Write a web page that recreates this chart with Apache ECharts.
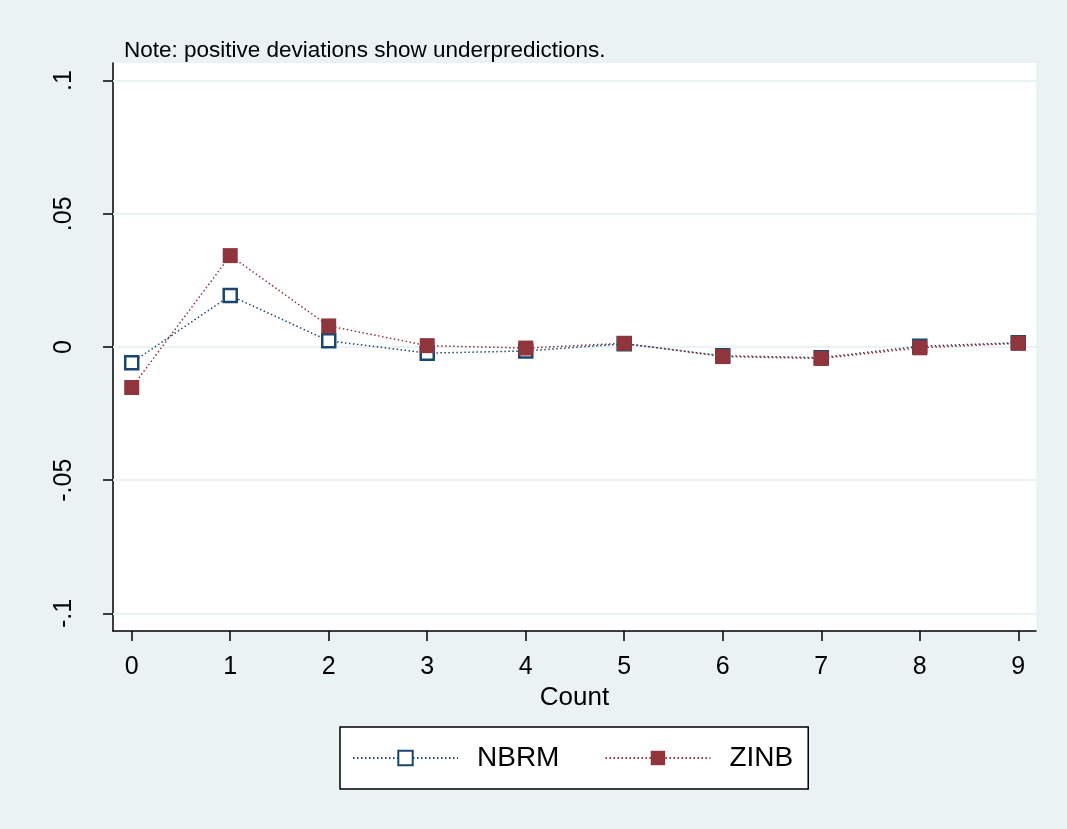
<!DOCTYPE html>
<html>
<head>
<meta charset="utf-8">
<script src="https://cdn.jsdelivr.net/npm/echarts@6/dist/echarts.min.js"></script>
<style>
  html, body { margin: 0; padding: 0; background: #EAF2F3; }
  #chart { width: 1067px; height: 829px; }
</style>
</head>
<body>
<div id="chart"></div>
<script>
var counts = [0, 1, 2, 3, 4, 5, 6, 7, 8, 9];
var nbrm = [-0.0059, 0.0193, 0.0023, -0.0023, -0.0015, 0.0012, -0.0033, -0.0040, 0.0003, 0.0016];
var zinb = [-0.0152, 0.0343, 0.0079, 0.0005, -0.0004, 0.0014, -0.0036, -0.0043, -0.0003, 0.0014];
var yTicks = [-0.1, -0.05, 0, 0.05, 0.1];
var yTickLabels = ['-.1', '-.05', '0', '.05', '.1'];

var navy = '#1a476f';
var maroon = '#90353b';
var bg = '#EAF2F3';
var font = 'Liberation Sans, Arial, sans-serif';

function pairs(vals) {
    return counts.map(function (c, i) { return [c, vals[i]]; });
}

var myChart;
document.addEventListener("DOMContentLoaded", function () {
    myChart = echarts.init(document.getElementById('chart'));
    var option = {
        backgroundColor: bg,
        animation: false,
        textStyle: { fontFamily: font },
        title: {
            text: 'Note: positive deviations show underpredictions.',
            left: 119,
            top: 34,
            textStyle: { fontSize: 22.5, fontWeight: 'normal', color: '#000', fontFamily: font }
        },
        grid: {
            left: 113, top: 63, right: 31, bottom: 198,
            show: true, backgroundColor: '#fff', borderWidth: 0
        },
        xAxis: {
            type: 'value',
            min: -0.19,
            max: 9.18,
            name: 'Count',
            nameLocation: 'middle',
            nameGap: 47,
            nameTextStyle: { fontSize: 26, color: '#000', fontFamily: font },
            axisLine: { show: true, onZero: false, lineStyle: { color: '#000', width: 1.5 } },
            axisTick: { show: true, length: 10, lineStyle: { color: '#000', width: 1.5 }, customValues: counts },
            axisLabel: { fontSize: 25, color: '#000', margin: 24, customValues: counts, formatter: function (v) { return String(v); } },
            splitLine: { show: false }
        },
        yAxis: {
            type: 'value',
            min: -0.1066,
            max: 0.1066,
            axisLine: { show: true, onZero: false, lineStyle: { color: '#000', width: 1.5 } },
            axisTick: { show: true, length: 10, lineStyle: { color: '#000', width: 1.5 }, customValues: yTicks },
            axisLabel: {
                fontSize: 25, color: '#000', rotate: 90, margin: 36, customValues: yTicks,
                formatter: function (v) {
                    var i = yTicks.findIndex(function (t) { return Math.abs(t - v) < 1e-9; });
                    return i >= 0 ? yTickLabels[i] : '';
                }
            },
            splitLine: { show: false }
        },
        legend: {
            bottom: 40,
            left: 340,
            orient: 'horizontal',
            backgroundColor: '#fff',
            borderColor: '#000',
            borderWidth: 1.5,
            borderRadius: 0,
            padding: [17, 15, 17, 12],
            itemWidth: 105,
            itemHeight: 18,
            itemGap: 45,
            textStyle: { fontSize: 28, color: '#000', padding: [0, 0, 0, 14], fontFamily: font },
            data: ['NBRM', 'ZINB']
        },
        series: [
            {
                name: 'grid',
                type: 'line',
                data: [],
                silent: true,
                markLine: {
                    silent: true,
                    z: 1,
                    symbol: 'none',
                    label: { show: false },
                    lineStyle: { color: bg, type: 'solid', width: 2 },
                    data: yTicks.map(function (t) { return { yAxis: t }; })
                }
            },
            {
                name: 'NBRM',
                type: 'line',
                data: pairs(nbrm),
                symbol: 'rect',
                symbolSize: 13,
                z: 3,
                lineStyle: { color: navy, width: 1.5, type: [1.5, 2.5] },
                itemStyle: { color: '#fff', borderColor: navy, borderWidth: 2.5 }
            },
            {
                name: 'ZINB',
                type: 'line',
                data: pairs(zinb),
                symbol: 'rect',
                symbolSize: 15,
                z: 4,
                lineStyle: { color: maroon, width: 1.5, type: [1.5, 2.5] },
                itemStyle: { color: maroon, borderColor: maroon, borderWidth: 0 }
            }
        ]
    };
    myChart.setOption(option);
});
</script>
</body>
</html>
